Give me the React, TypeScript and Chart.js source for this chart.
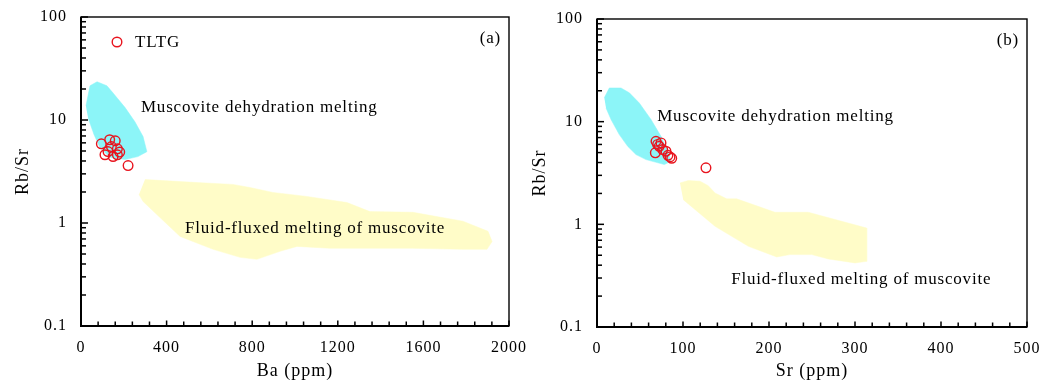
import React, { useEffect, useRef } from 'react';
import { Chart, registerables } from 'chart.js';

Chart.register(...registerables);

const FONT = "'Liberation Serif', 'Times New Roman', serif";
const RED = '#E8141E';
const CYAN = '#8CF5F8';
const YELLOW = '#FFFCC8';

// ---- Panel (a): Ba vs Rb/Sr ----
const baSamples = [95, 134, 160, 126, 142, 170, 150, 170, 181, 112, 220];
const rbsrSamplesA = [5.87, 6.43, 6.28, 4.94, 5.52, 5.25, 4.42, 4.59, 4.88, 4.6, 3.61];

const dehydBa = [23, 42, 75, 121, 145, 206, 252, 290, 308, 266, 206, 136, 89, 61, 33];
const dehydRbsrA = [13.7, 21.5, 23.5, 21.5, 18.8, 13.2, 9.6, 6.9, 4.93, 4.41, 4.13, 4.32, 5.39, 7.2, 10.5];

const fluidBa = [299, 383, 542, 710, 790, 897, 1056, 1243, 1350, 1551, 1785, 1902, 1921, 1897, 1785, 1551, 1164, 1009, 930, 822, 743, 617, 463, 369, 290, 271];
const fluidRbsrA = [2.64, 2.58, 2.47, 2.37, 2.21, 1.98, 1.81, 1.58, 1.29, 1.27, 1.04, 0.83, 0.66, 0.555, 0.555, 0.568, 0.568, 0.593, 0.531, 0.444, 0.464, 0.555, 0.741, 1.13, 1.62, 1.89];

const baTicks = [0, 400, 800, 1200, 1600, 2000];

// ---- Panel (b): Sr vs Rb/Sr ----
const srSamples = [68.6, 74.4, 72.4, 76.4, 67.8, 80.2, 84.9, 86.9, 126.7, 70.5, 82.5];
const rbsrSamplesB = [6.44, 6.21, 5.75, 5.35, 4.97, 5.15, 4.54, 4.40, 3.55, 6.0, 4.7];

const dehydSr = [8.5, 14.3, 27.9, 37.6, 49.2, 62.8, 74.4, 82.2, 86, 78.3, 57, 45.3, 35.7, 25.9, 16.3, 10.5];
const dehydRbsrB = [17.1, 21.3, 21.3, 19.1, 15.2, 10.5, 7.2, 5.15, 4.11, 3.82, 4.27, 4.78, 5.75, 7.48, 10.5, 13.6];

const fluidSr = [96.5, 106.2, 119.8, 129.4, 137.2, 150.8, 162.4, 207, 245.7, 313.6, 313.6, 300, 269, 249.7, 224.4, 209, 176, 137.2, 100.3];
const fluidRbsrB = [2.53, 2.67, 2.63, 2.38, 2.02, 1.77, 1.77, 1.31, 1.31, 0.92, 0.436, 0.421, 0.46, 0.507, 0.507, 0.481, 0.611, 0.957, 1.74];

const srTicks = [0, 100, 200, 300, 400, 500];

const rbsrTicks = [0.1, 1, 10, 100];

const legendLabel = 'TLTG';
const regionDehydLabel = 'Muscovite dehydration melting';
const regionFluidLabel = 'Fluid-fluxed melting of muscovite';

const toPts = (xs: number[], ys: number[]) => xs.map((x, i) => ({ x, y: ys[i] }));

const framePlugin = {
  id: 'frame',
  beforeDraw(chart: any) {
    chart.ctx.letterSpacing = '1px';
  },
  afterDraw(chart: any, _args: any, opts: any) {
    const { ctx, chartArea: a, scales } = chart;
    const xs = scales.x;
    const ys = scales.y;
    ctx.save();
    ctx.strokeStyle = '#000';
    ctx.lineWidth = 1.5;
    // y ticks (inward)
    for (let d = 0; d < rbsrTicks.length; d++) {
      const base = rbsrTicks[d];
      const kmax = d === rbsrTicks.length - 1 ? 1 : 9;
      for (let k = 1; k <= kmax; k++) {
        const v = base * k;
        const p = ys.getPixelForValue(v);
        const len = k === 1 ? 7 : 5;
        ctx.beginPath();
        ctx.moveTo(a.left, p);
        ctx.lineTo(a.left + len, p);
        ctx.stroke();
      }
    }
    // x ticks (inward)
    for (let v = xs.min; v <= xs.max + 1e-6; v += opts.xMinor) {
      const p = xs.getPixelForValue(v);
      const major = Math.abs(v / opts.xMajor - Math.round(v / opts.xMajor)) < 1e-6;
      const len = major ? 5.5 : 4.5;
      ctx.beginPath();
      ctx.moveTo(p, a.bottom);
      ctx.lineTo(p, a.bottom - len);
      ctx.stroke();
    }
    // frame
    ctx.lineWidth = 1.4;
    ctx.strokeRect(a.left, a.top, a.right - a.left, a.bottom - a.top);
    ctx.lineWidth = 2;
    ctx.beginPath();
    ctx.moveTo(a.left, a.top);
    ctx.lineTo(a.left, a.bottom);
    ctx.lineTo(a.right, a.bottom);
    ctx.stroke();

    // region labels
    ctx.fillStyle = '#000';
    ctx.font = `17px ${FONT}`;
    ctx.letterSpacing = '0.8px';
    ctx.textBaseline = 'middle';
    ctx.textAlign = 'left';
    for (const lab of opts.labels) {
      ctx.fillText(lab.text, xs.getPixelForValue(lab.x), ys.getPixelForValue(lab.y));
    }
    // panel letter
    ctx.textAlign = 'right';
    ctx.fillText(opts.panel, a.right - 8, a.top + 22);
    // legend
    if (opts.legend) {
      const cx = a.left + 36;
      const cy = a.top + 25;
      ctx.strokeStyle = RED;
      ctx.lineWidth = 1.4;
      ctx.beginPath();
      ctx.arc(cx, cy, 4.8, 0, Math.PI * 2);
      ctx.stroke();
      ctx.textAlign = 'left';
      ctx.fillText(opts.legend, cx + 18, cy + 1);
    }
    ctx.restore();
  },
};

type Panel = {
  px: number[]; py: number[];
  cx: number[]; cy: number[];
  fx: number[]; fy: number[];
  xTicks: number[]; xMax: number; xMinor: number; xMajor: number;
  xTitle: string;
  top: number; right: number; xAxisH: number; yAxisW: number; yTitlePad: number;
  labels: { text: string; x: number; y: number }[];
  panel: string; legend?: string;
};

const panelA: Panel = {
  px: baSamples, py: rbsrSamplesA,
  cx: dehydBa, cy: dehydRbsrA,
  fx: fluidBa, fy: fluidRbsrA,
  xTicks: baTicks, xMax: 2000, xMinor: 80, xMajor: 400,
  xTitle: 'Ba (ppm)',
  top: 17, right: 31, xAxisH: 57, yAxisW: 81, yTitlePad: 12,
  labels: [
    { text: regionDehydLabel, x: 280, y: 13.1 },
    { text: regionFluidLabel, x: 486, y: 0.877 },
  ],
  panel: '(a)', legend: legendLabel,
};

const panelB: Panel = {
  px: srSamples, py: rbsrSamplesB,
  cx: dehydSr, cy: dehydRbsrB,
  fx: fluidSr, fy: fluidRbsrB,
  xTicks: srTicks, xMax: 500, xMinor: 20, xMajor: 100,
  xTitle: 'Sr (ppm)',
  top: 19, right: 30, xAxisH: 56, yAxisW: 77, yTitlePad: 9,
  labels: [
    { text: regionDehydLabel, x: 70, y: 11.2 },
    { text: regionFluidLabel, x: 156, y: 0.29 },
  ],
  panel: '(b)',
};

function makeChart(canvas: HTMLCanvasElement, p: Panel) {
  return new Chart(canvas, {
    type: 'scatter',
    data: {
      datasets: [
        {
          type: 'scatter',
          data: toPts(p.px, p.py),
          pointRadius: 4.8,
          pointHoverRadius: 4.8,
          pointBorderWidth: 1.4,
          pointBorderColor: RED,
          pointBackgroundColor: 'rgba(0,0,0,0)',
          borderColor: RED,
          backgroundColor: 'rgba(0,0,0,0)',
        },
        {
          type: 'line',
          data: toPts(p.cx, p.cy),
          fill: 'shape',
          backgroundColor: CYAN,
          borderColor: CYAN,
          borderWidth: 0.5,
          pointRadius: 0,
          tension: 0,
        },
        {
          type: 'line',
          data: toPts(p.fx, p.fy),
          fill: 'shape',
          backgroundColor: YELLOW,
          borderColor: YELLOW,
          borderWidth: 0.5,
          pointRadius: 0,
          tension: 0,
        },
      ],
    } as any,
    options: {
      responsive: false,
      animation: false,
      events: [],
      layout: { padding: { left: 0, top: p.top, right: p.right, bottom: 0 } },
      plugins: {
        legend: { display: false },
        tooltip: { enabled: false },
        frame: {
          xMinor: p.xMinor, xMajor: p.xMajor, labels: p.labels, panel: p.panel, legend: p.legend,
        },
      } as any,
      scales: {
        x: {
          type: 'linear',
          min: 0,
          max: p.xMax,
          grid: { display: false, drawTicks: false },
          border: { display: false },
          afterBuildTicks: (s: any) => { s.ticks = p.xTicks.map((v) => ({ value: v })); },
          afterFit: (s: any) => { s.height = p.xAxisH; s.paddingLeft = 0; s.paddingRight = 0; },
          ticks: {
            color: '#000', font: { family: FONT, size: 16 }, padding: 12,
            maxRotation: 0, autoSkip: false, callback: (v: any) => String(v),
          },
          title: {
            display: true, text: p.xTitle, color: '#000',
            font: { family: FONT, size: 18 }, padding: { top: 0, bottom: 1 },
          },
        },
        y: {
          type: 'logarithmic',
          min: 0.1,
          max: 100,
          grid: { display: false, drawTicks: false },
          border: { display: false },
          afterBuildTicks: (s: any) => { s.ticks = rbsrTicks.map((v) => ({ value: v })); },
          afterFit: (s: any) => { s.width = p.yAxisW; s.paddingTop = 0; s.paddingBottom = 0; },
          ticks: {
            color: '#000', font: { family: FONT, size: 16 }, padding: 14,
            autoSkip: false, callback: (v: any) => String(v),
          },
          title: {
            display: true, text: 'Rb/Sr', color: '#000',
            font: { family: FONT, size: 18 }, padding: { top: p.yTitlePad, bottom: 0 },
          },
        },
      },
    } as any,
    plugins: [framePlugin as any],
  });
}

export default function App() {
  const refA = useRef<HTMLCanvasElement>(null);
  const refB = useRef<HTMLCanvasElement>(null);
  useEffect(() => {
    const a = makeChart(refA.current!, panelA);
    const b = makeChart(refB.current!, panelB);
    return () => { a.destroy(); b.destroy(); };
  }, []);
  return (
    <div style={{ position: 'absolute', left: 0, top: 0, width: 1057, height: 383, background: '#fff', overflow: 'hidden' }}>
      <canvas ref={refA} width={540} height={383} style={{ position: 'absolute', left: 0, top: 0 }} />
      <canvas ref={refB} width={537} height={383} style={{ position: 'absolute', left: 520, top: 0 }} />
    </div>
  );
}
